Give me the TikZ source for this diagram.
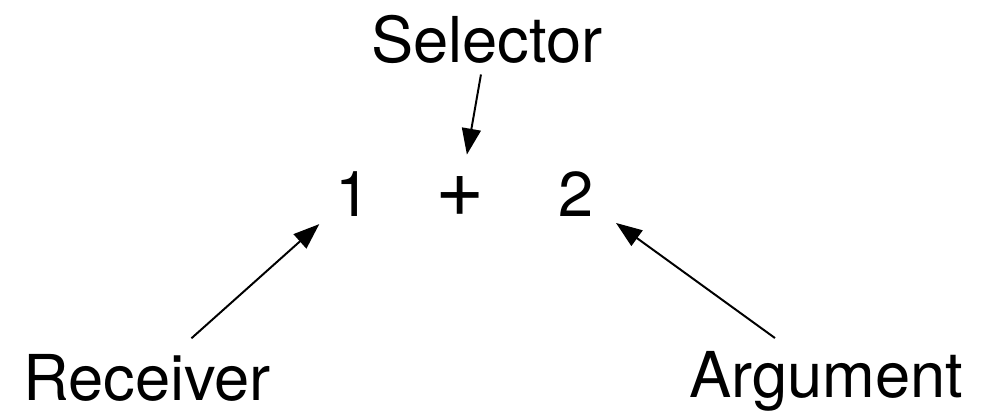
\documentclass[tikz,border=0pt]{standalone}
\usepackage{fontspec}
\setmainfont{TeX Gyre Heros}
\usetikzlibrary{arrows.meta}

\begin{document}
\begin{tikzpicture}
\tikzstyle{word}=[inner sep=0pt, text height=32.4pt, text depth=0pt, font=\fontsize{45}{54}\selectfont]
\tikzstyle{link}=[line width=1.4pt, -{Triangle[length=6.5mm, width=4.75mm]}]

\useasboundingbox (0,0) rectangle (24.6,10.375);

\node (sel) at (12.175,9.375) [word] {Selector};
\node (one) at (8.825,5.525) [word] {1};
\node (plus) at (11.5,5.525) [word, font=\fontsize{60}{70}\selectfont] {+};
\node (two) at (14.4,5.525) [word] {2};
\node (rec) at (3.675,0.925) [word] {Receiver};
\node (arg) at (20.65,1.0) [word] {Argument};

\draw[link, shorten <=0.875cm, shorten >=1cm] (sel.center) -- (plus.center);
\draw[link, shorten <=1.49cm, shorten >=1.13cm] (rec.center) -- (one.center);
\draw[link, shorten <=1.575cm, shorten >=1.235cm] (arg.center) -- (two.center);
\end{tikzpicture}
\end{document}
